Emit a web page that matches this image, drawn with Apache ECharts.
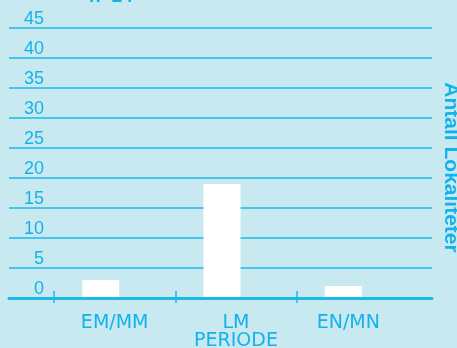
<!DOCTYPE html>
<html>
<head>
<meta charset="utf-8">
<script src="https://cdn.jsdelivr.net/npm/echarts@6/dist/echarts.min.js"></script>
<style>
  html, body { margin: 0; padding: 0; background: #c9e9f1; }
  #chart { width: 457px; height: 348px; }
</style>
</head>
<body>
<div id="chart"></div>
<script>
// Number of localities per period (n = 24)
const categories = ['EM/MM', 'LM', 'EN/MN'];
const localityCounts = [3, 19, 2];
const yMin = 0;
const yMax = 45;
const yStep = 5;
const titleText = 'n=24';
const xName = 'PERIODE';
const yName = 'Antall Lokaliteter';

const cyan = '#1db8ea';
const textCyan = '#13b3ea';
const font = 'Liberation Sans, Arial, sans-serif';
const wideFont = 'DejaVu Sans, sans-serif';

const plotTop = 28, plotBottom = 50;
const makeGrid = (left, right) => ({
  left: left, right: right, top: plotTop, bottom: plotBottom, outerBoundsMode: 'none'
});
const hiddenY = (i) => ({ gridIndex: i, type: 'value', min: yMin, max: yMax, show: false });

const chart = echarts.init(document.getElementById('chart'));
chart.setOption({
  backgroundColor: '#c9e9f1',
  animation: false,
  title: {
    text: titleText,
    left: 84, top: -18,
    textStyle: { color: textCyan, fontSize: 19, fontWeight: 'bold', fontFamily: font }
  },
  grid: [
    makeGrid(9, 25),   // gridlines, value labels, base line
    makeGrid(54, 39),  // category labels
    makeGrid(54, 160), // tick marks
    makeGrid(40, 53)   // bars
  ],
  xAxis: [
    {
      gridIndex: 0, type: 'value', min: 0, max: 1, z: 5,
      axisLine: { show: true, lineStyle: { color: cyan, width: 3 } },
      axisTick: { show: false }, axisLabel: { show: false }, splitLine: { show: false }
    },
    {
      gridIndex: 1, type: 'category', data: categories,
      axisLine: { show: false }, axisTick: { show: false },
      axisLabel: {
        color: textCyan, fontSize: 19, fontFamily: wideFont, margin: 16, interval: 0,
        formatter: (v) => v === 'EN/MN' ? '{s|' + v + '}' : v,
        rich: { s: { color: textCyan, fontSize: 19, fontFamily: wideFont, padding: [0, 18, 0, 0] } }
      },
      name: xName, nameLocation: 'middle', nameGap: 34, nameMoveOverlap: false,
      nameTextStyle: { color: textCyan, fontSize: 19, fontFamily: wideFont }
    },
    {
      gridIndex: 2, type: 'category', data: categories, boundaryGap: false,
      offset: -7, z: 6,
      axisLine: { show: false },
      axisTick: { show: true, length: 12, interval: 0, lineStyle: { color: cyan, width: 1.5 } },
      axisLabel: { show: false }
    },
    { gridIndex: 3, type: 'category', data: categories, show: false }
  ],
  yAxis: [
    {
      gridIndex: 0, type: 'value', min: yMin, max: yMax, interval: yStep,
      axisLine: { show: false }, axisTick: { show: false },
      splitLine: { show: true, lineStyle: { color: cyan, width: 1.5 } },
      axisLabel: {
        color: textCyan, fontSize: 18, fontFamily: font,
        margin: -35, align: 'right', verticalAlign: 'bottom'
      }
    },
    {
      gridIndex: 0, type: 'value', min: yMin, max: yMax, position: 'right',
      axisLine: { show: false }, axisTick: { show: false },
      axisLabel: { show: false }, splitLine: { show: false },
      name: yName, nameLocation: 'middle', nameRotate: -90, nameGap: 8,
      nameTextStyle: {
        color: textCyan, fontSize: 21, fontWeight: 'bold', fontFamily: font,
        padding: [0, 0, 0, 9]
      }
    },
    hiddenY(1),
    hiddenY(2),
    hiddenY(3)
  ],
  series: [
    {
      type: 'bar', xAxisIndex: 3, yAxisIndex: 4,
      data: localityCounts, barWidth: 37,
      itemStyle: { color: '#ffffff' }
    }
  ]
});
</script>
</body>
</html>
